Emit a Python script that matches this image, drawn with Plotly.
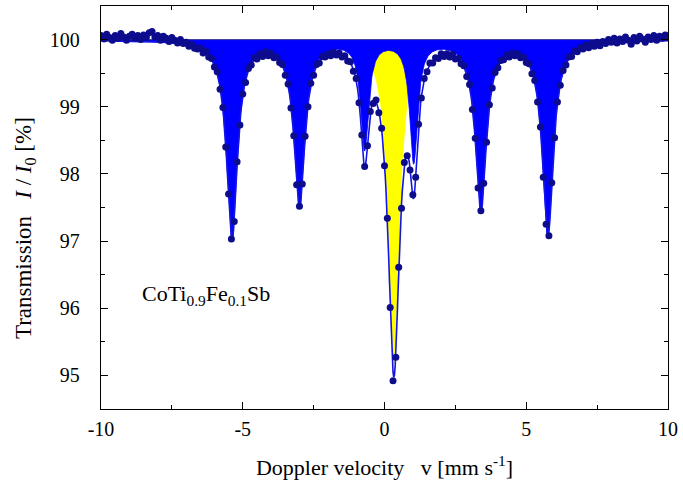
import numpy as np
import plotly.graph_objects as go

# ---- measured spectrum (channel velocities -10 ... 10 mm/s, step 0.1) ----
velocity = np.round(np.linspace(-10, 10, 201), 2)
transmission = [
    100.06, 100.01, 100.08, 100.03, 99.99, 100.06, 100.02, 100.09, 100.04, 99.99,
    100.05, 100.08, 100.02, 100.06, 100.00, 100.07, 100.03, 100.10, 100.12, 100.04,
    100.06, 99.99, 100.05, 100.02, 99.97, 100.03, 99.99, 99.95, 100.00, 99.94,
    99.96, 99.90, 99.93, 99.87, 99.86, 99.88, 99.80, 99.83, 99.74, 99.72,
    99.59, 99.52, 99.26, 98.99, 98.40, 97.70, 97.03, 97.29, 98.18, 98.73,
    99.19, 99.36, 99.57, 99.62, 99.73, 99.71, 99.79, 99.75, 99.82, 99.76,
    99.80, 99.73, 99.74, 99.66, 99.63, 99.47, 99.34, 98.98, 98.57, 97.84,
    97.52, 97.85, 98.56, 99.00, 99.35, 99.47, 99.63, 99.65, 99.75, 99.74,
    99.79, 99.76, 99.81, 99.77, 99.80, 99.74, 99.76, 99.68, 99.67, 99.53,
    99.42, 99.06, 98.58, 98.11, 98.42, 98.93, 99.05, 99.10, 98.91, 98.68,
    98.12, 97.34, 96.01, 94.92, 95.27, 96.61, 97.49, 98.17, 98.27, 98.06,
    97.69, 97.95, 98.74, 99.13, 99.42, 99.52, 99.65, 99.65, 99.73, 99.72,
    99.79, 99.75, 99.79, 99.74, 99.78, 99.71, 99.72, 99.64, 99.61, 99.45,
    99.33, 98.96, 98.53, 97.79, 97.45, 97.86, 98.47, 99.03, 99.28, 99.51,
    99.58, 99.69, 99.70, 99.77, 99.74, 99.80, 99.76, 99.79, 99.73, 99.74,
    99.66, 99.64, 99.49, 99.39, 99.07, 98.70, 97.95, 97.25, 97.08, 97.87,
    98.54, 99.07, 99.32, 99.54, 99.62, 99.74, 99.75, 99.83, 99.82, 99.88,
    99.86, 99.92, 99.88, 99.94, 99.90, 99.96, 99.91, 99.97, 99.94, 100.00,
    99.96, 100.02, 99.95, 100.01, 99.97, 100.04, 99.99, 99.93, 100.03, 99.98,
    100.05, 100.01, 99.96, 100.04, 100.00, 100.06, 99.99, 100.05, 100.02, 100.07,
    100.03,
]

# ---- fitted components ----
sextet_pos = [-5.38, -3.00, -0.70, 1.03, 3.40, 5.76]
sextet_depth = [2.95, 2.45, 1.60, 1.80, 2.50, 2.92]
sextet_hwhm = [0.23, 0.23, 0.17, 0.17, 0.23, 0.23]
singlet_pos = [0.33]
singlet_depth = [4.85]
singlet_hwhm = [0.24]
baseline = 100.0

# axis ticks
x_tick_vals = [-10, -5, 0, 5, 10]
x_tick_text = ["-10", "-5", "0", "5", "10"]
y_tick_vals = [95, 96, 97, 98, 99, 100]
y_tick_text = ["95", "96", "97", "98", "99", "100"]

v_fit = np.linspace(-10, 10, 801)


def absorption(v, pos, depth, hwhm):
    out = np.zeros_like(v)
    for p, a, g in zip(pos, depth, hwhm):
        out += a / (1.0 + ((v - p) / g) ** 2)
    return out


sextet_abs = absorption(v_fit, sextet_pos, sextet_depth, sextet_hwhm)
singlet_abs = absorption(v_fit, singlet_pos, singlet_depth, singlet_hwhm)
sextet_curve = baseline - sextet_abs
singlet_curve = baseline - singlet_abs
total_curve = baseline - sextet_abs - singlet_abs
base_line = np.full_like(v_fit, baseline)

serif = "Liberation Serif"
fig = go.Figure()

# singlet area (yellow), underneath the sextet area
fig.add_trace(go.Scatter(x=v_fit, y=base_line, mode="lines",
                         line=dict(width=0), hoverinfo="skip", showlegend=False))
fig.add_trace(go.Scatter(x=v_fit, y=singlet_curve, mode="lines", fill="tonexty",
                         fillcolor="#ffff00", line=dict(width=0, color="#ffff00"),
                         showlegend=False))
# sextet area (blue)
fig.add_trace(go.Scatter(x=v_fit, y=base_line, mode="lines",
                         line=dict(width=1, color="#3c3c9c"), hoverinfo="skip",
                         showlegend=False))
fig.add_trace(go.Scatter(x=v_fit, y=sextet_curve, mode="lines", fill="tonexty",
                         fillcolor="#0000ff", line=dict(width=0.8, color="#0000ff"),
                         showlegend=False))
# total fit
fig.add_trace(go.Scatter(x=v_fit, y=total_curve, mode="lines",
                         line=dict(width=1.6, color="#1414e6"), showlegend=False))
# measured points
fig.add_trace(go.Scatter(x=velocity, y=transmission, mode="markers",
                         marker=dict(size=7, color="#0c0c8c"), showlegend=False))

fig.add_annotation(x=-6.3, y=96.2, xref="x", yref="y",
                   text="CoTi<sub>0.9</sub>Fe<sub>0.1</sub>Sb", showarrow=False,
                   font=dict(family=serif, size=22, color="black"))

# y-axis title (placed as rotated text, like the original)
fig.add_annotation(x=-0.135, y=0.45, xref="paper", yref="paper",
                   xanchor="center", yanchor="middle", textangle=-90,
                   text="Transmission   <i>I</i> / <i>I</i><sub>0</sub> [%]",
                   showarrow=False, font=dict(family=serif, size=23, color="black"))

axis_common = dict(
    showline=True, linecolor="black", linewidth=1.3, mirror="ticks",
    ticks="inside", ticklen=7, tickwidth=1.3, tickcolor="black",
    showgrid=False, zeroline=False,
    tickfont=dict(family=serif, size=20, color="black"),
)

fig.update_xaxes(
    range=[-10, 10], tickmode="array", tickvals=x_tick_vals, ticktext=x_tick_text,
    minor=dict(ticks="inside", ticklen=4, tickwidth=1.2, tickcolor="black",
               tickmode="linear", tick0=0, dtick=2.5),
    ticklabelstandoff=2,
    title=dict(text="Doppler velocity   v [mm s<sup>-1</sup>]",
               font=dict(family=serif, size=22, color="black"), standoff=20),
    **axis_common,
)
fig.update_yaxes(
    range=[94.5, 100.5], tickmode="array", tickvals=y_tick_vals, ticktext=y_tick_text,
    minor=dict(ticks="inside", ticklen=4, tickwidth=1.2, tickcolor="black",
               tickmode="linear", tick0=0, dtick=0.5),
    ticklabelstandoff=16,
    **axis_common,
)

fig.update_layout(
    width=683, height=486,
    margin=dict(l=101, r=12, t=5, b=77),
    paper_bgcolor="white", plot_bgcolor="white",
    showlegend=False,
)

fig.write_html("out.html")
